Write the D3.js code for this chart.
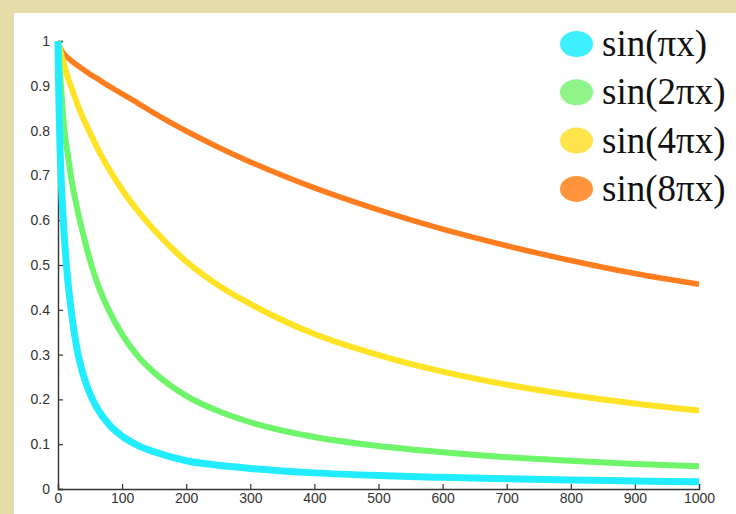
<!DOCTYPE html>
<html>
<head>
<meta charset="utf-8">
<script src="https://cdn.jsdelivr.net/npm/d3@7"></script>
<style>
  html, body { margin: 0; padding: 0; background: #e6dcaa; }
  svg { display: block; }
</style>
</head>
<body>
<svg id="chart" width="736" height="514"></svg>
<script>
// Sample positions along the x axis
const xs = [0, 1, 2, 3, 5, 10, 15, 20, 30, 40, 50, 60, 80, 100, 125, 150, 200, 250, 300, 400, 500, 600, 700, 800, 900, 1000];

// Decay curves, one value per sample position
const sinPi  = [1, 0.9, 0.83, 0.77, 0.69, 0.56, 0.47, 0.405, 0.31, 0.252, 0.212, 0.183, 0.143, 0.118, 0.097, 0.083, 0.063, 0.053, 0.046, 0.036, 0.030, 0.026, 0.023, 0.020, 0.018, 0.016];
const sin2Pi = [1, 0.975, 0.95, 0.93, 0.89, 0.80, 0.75, 0.70, 0.625, 0.565, 0.51, 0.465, 0.397, 0.345, 0.296, 0.26, 0.208, 0.174, 0.149, 0.116, 0.096, 0.082, 0.071, 0.063, 0.056, 0.051];
const sin4Pi = [1, 0.994, 0.988, 0.982, 0.97, 0.945, 0.92, 0.90, 0.86, 0.825, 0.795, 0.765, 0.713, 0.668, 0.62, 0.578, 0.508, 0.455, 0.413, 0.346, 0.299, 0.262, 0.233, 0.21, 0.191, 0.175];
const sin8Pi = [1, 0.995, 0.99, 0.986, 0.98, 0.97, 0.963, 0.957, 0.946, 0.936, 0.926, 0.917, 0.899, 0.882, 0.861, 0.839, 0.799, 0.763, 0.73, 0.672, 0.623, 0.58, 0.543, 0.51, 0.481, 0.457];

const seriesNames  = ["sin(\u03C0x)", "sin(2\u03C0x)", "sin(4\u03C0x)", "sin(8\u03C0x)"];
const seriesValues = [sinPi, sin2Pi, sin4Pi, sin8Pi];
const lineColors   = ["#22ecff", "#6ef56a", "#ffe324", "#ff7d1e"];
const legendColors = ["#3eefff", "#8ff58a", "#ffe44c", "#ff943c"];
const lineWidths   = [7, 6, 6, 5.5];

const xTicks = [0, 100, 200, 300, 400, 500, 600, 700, 800, 900, 1000];
const yTicks = [0, 0.1, 0.2, 0.3, 0.4, 0.5, 0.6, 0.7, 0.8, 0.9, 1];

const svg = d3.select("#chart");

// white panel on the beige page
svg.append("rect")
  .attr("x", 14).attr("y", 13)
  .attr("width", 736 - 14).attr("height", 514 - 13)
  .attr("fill", "#ffffff");

const x = d3.scaleLinear().domain([0, 1000]).range([58, 699]);
const y = d3.scaleLinear().domain([0, 1]).range([489, 41]);

const tickFont = "Liberation Sans, Arial, sans-serif";

// y axis: ticks pointing into the plot
const yAxis = svg.append("g")
  .attr("transform", `translate(${x(0)},0)`)
  .call(d3.axisRight(y).tickValues(yTicks).tickSize(5).tickFormat(d3.format("~g")));
yAxis.select(".domain").attr("stroke", "#333").attr("stroke-width", 1.4);
yAxis.selectAll(".tick line").attr("stroke", "#333").attr("stroke-width", 1.2);
yAxis.selectAll(".tick text")
  .attr("x", -8).attr("text-anchor", "end")
  .attr("font-family", tickFont).attr("font-size", 14).attr("fill", "#333");

// x axis: ticks pointing up
const xAxis = svg.append("g")
  .attr("transform", `translate(0,${y(0)})`)
  .call(d3.axisTop(x).tickValues(xTicks).tickSize(5).tickFormat(d3.format("d")));
xAxis.select(".domain").attr("stroke", "#333").attr("stroke-width", 1.4);
xAxis.selectAll(".tick line").attr("stroke", "#333").attr("stroke-width", 1.2);
xAxis.selectAll(".tick text")
  .attr("y", 4).attr("dy", "0.71em")
  .attr("font-family", tickFont).attr("font-size", 14).attr("fill", "#333");

// curves, slowest decay drawn first so the steep ones sit on top
const line = d3.line()
  .x((d, i) => x(xs[i]))
  .y(d => y(d))
  .curve(d3.curveMonotoneX);

const order = [3, 2, 1, 0];
svg.append("g")
  .selectAll("path")
  .data(order)
  .join("path")
  .attr("d", i => line(seriesValues[i]))
  .attr("fill", "none")
  .attr("stroke", i => lineColors[i])
  .attr("stroke-width", i => lineWidths[i])
  .attr("stroke-linejoin", "round");

// legend
const legend = svg.append("g");
const rowY = i => 44 + i * 48.3;
legend.selectAll("ellipse")
  .data(seriesNames)
  .join("ellipse")
  .attr("cx", 576.5)
  .attr("cy", (d, i) => rowY(i))
  .attr("rx", 16.5).attr("ry", 13)
  .attr("fill", (d, i) => legendColors[i]);
legend.selectAll("text")
  .data(seriesNames)
  .join("text")
  .attr("x", 602)
  .attr("y", (d, i) => rowY(i) + 12)
  .attr("font-family", "Liberation Serif, Times New Roman, serif")
  .attr("font-size", 37)
  .attr("fill", "#111")
  .text(d => d);
</script>
</body>
</html>
